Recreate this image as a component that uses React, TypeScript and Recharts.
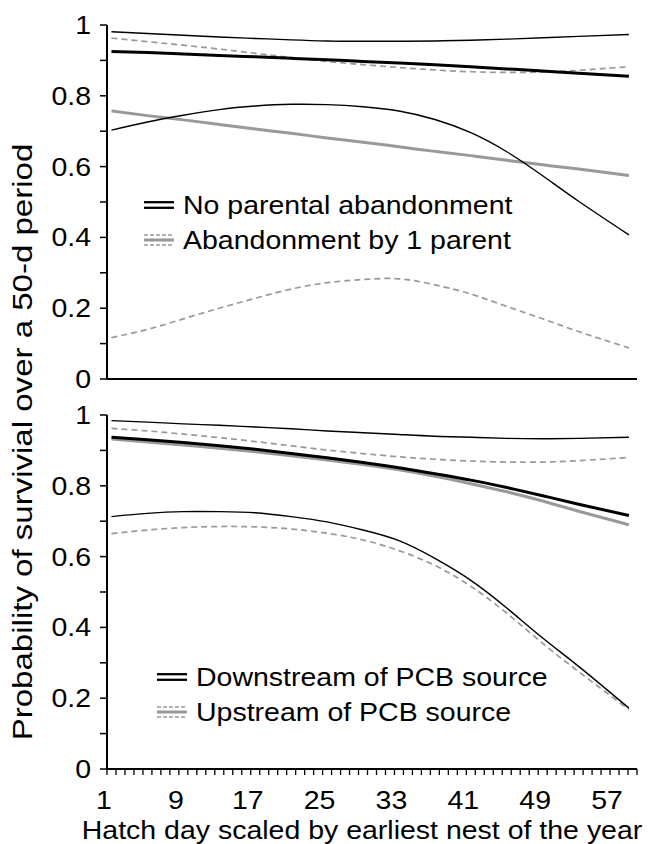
import React from 'react';
import { LineChart, Line, XAxis, YAxis } from 'recharts';

// hatch day (scaled by earliest nest of the year)
const days = [1, 5, 9, 13, 17, 21, 25, 29, 33, 37, 41, 45, 49, 53, 58.6];

// top panel: parental abandonment
const noAbandonMean = [0.925, 0.922, 0.918, 0.914, 0.91, 0.906, 0.902, 0.897, 0.893, 0.888, 0.882, 0.876, 0.87, 0.864, 0.855];
const noAbandonUpper = [0.981, 0.976, 0.971, 0.966, 0.962, 0.958, 0.955, 0.954, 0.954, 0.955, 0.957, 0.96, 0.964, 0.968, 0.973];
const noAbandonLower = [0.703, 0.726, 0.745, 0.761, 0.771, 0.776, 0.775, 0.769, 0.757, 0.733, 0.696, 0.642, 0.574, 0.502, 0.407];
const abandonMean = [0.757, 0.744, 0.732, 0.719, 0.706, 0.694, 0.681, 0.669, 0.656, 0.643, 0.631, 0.618, 0.605, 0.593, 0.575];
const abandonUpper = [0.963, 0.953, 0.943, 0.932, 0.92, 0.908, 0.897, 0.888, 0.88, 0.873, 0.868, 0.866, 0.867, 0.872, 0.882];
const abandonLower = [0.117, 0.14, 0.17, 0.2, 0.228, 0.254, 0.272, 0.281, 0.283, 0.266, 0.24, 0.205, 0.17, 0.134, 0.088];

// bottom panel: PCB source
const downMean = [0.937, 0.93, 0.922, 0.913, 0.903, 0.891, 0.879, 0.866, 0.851, 0.834, 0.816, 0.795, 0.772, 0.748, 0.716];
const downUpper = [0.984, 0.98, 0.975, 0.971, 0.966, 0.961, 0.955, 0.95, 0.945, 0.94, 0.937, 0.934, 0.933, 0.934, 0.937];
const downLower = [0.713, 0.722, 0.727, 0.727, 0.724, 0.713, 0.698, 0.675, 0.645, 0.595, 0.533, 0.455, 0.37, 0.29, 0.172];
const upMean = [0.932, 0.924, 0.915, 0.906, 0.896, 0.885, 0.873, 0.86, 0.845, 0.827, 0.806, 0.783, 0.757, 0.728, 0.69];
const upUpper = [0.962, 0.955, 0.946, 0.936, 0.925, 0.913, 0.901, 0.891, 0.882, 0.875, 0.87, 0.867, 0.867, 0.871, 0.88];
const upLower = [0.665, 0.675, 0.682, 0.685, 0.684, 0.678, 0.666, 0.647, 0.617, 0.575, 0.516, 0.44, 0.355, 0.275, 0.168];

const xTickLabels = [1, 9, 17, 25, 33, 41, 49, 57];
const yTickLabels = [0, 0.2, 0.4, 0.6, 0.8, 1];

const FONT = "'Liberation Sans', Arial, Helvetica, sans-serif";
const SX = 1.14; // text in the figure is set a bit wide
const INK = '#000';
const GREY = '#999';

const xTicks = Array.from({ length: 60 }, (_, i) => i + 0.5);
const yTicks = Array.from({ length: 11 }, (_, i) => i / 10);

const topData = days.map((day, i) => ({
  day,
  mA: noAbandonMean[i], uA: noAbandonUpper[i], lA: noAbandonLower[i],
  mB: abandonMean[i], uB: abandonUpper[i], lB: abandonLower[i],
}));
const bottomData = days.map((day, i) => ({
  day,
  mA: downMean[i], uA: downUpper[i], lA: downLower[i],
  mB: upMean[i], uB: upUpper[i], lB: upLower[i],
}));

const Txt = ({ x, y, anchor = 'start', size = 25, sx = SX, rotate = 0, dy = 0, children }: any) => (
  <g transform={`translate(${x},${y}) rotate(${rotate}) scale(${sx},1)`}>
    <text x={0} y={dy} textAnchor={anchor} fontSize={size} fontFamily={FONT} fill={INK}>
      {children}
    </text>
  </g>
);

const XTick = (props: any) => {
  const { x, y, payload } = props;
  const day = payload.value + 0.5;
  if (!xTickLabels.includes(day)) return null;
  return <Txt x={x - 3} y={y + 32} anchor="middle">{day}</Txt>;
};

const YTick = (props: any) => {
  const { x, y, payload } = props;
  const lab = yTickLabels.find((v) => Math.abs(v - payload.value) < 1e-6);
  if (lab === undefined) return null;
  return <Txt x={x - 7} y={y + 9} anchor="end">{String(lab)}</Txt>;
};

const Panel = ({ data, height, axisHeight, labels }: any) => (
  <LineChart width={652} height={height} data={data} margin={{ top: 25, right: 15, bottom: 0, left: 0 }}>
    <XAxis
      dataKey="day"
      type="number"
      domain={[0.5, 59.5]}
      ticks={xTicks}
      interval={0}
      height={axisHeight}
      axisLine={{ stroke: INK, strokeWidth: 2 }}
      tickLine={{ stroke: INK, strokeWidth: 1.3 }}
      tickSize={6}
      tick={labels ? <XTick /> : false}
    />
    <YAxis
      type="number"
      domain={[0, 1]}
      ticks={yTicks}
      interval={0}
      width={107}
      axisLine={{ stroke: INK, strokeWidth: 2 }}
      tickLine={{ stroke: INK, strokeWidth: 1.5 }}
      tickSize={7}
      tick={<YTick />}
    />
    <Line type="natural" dataKey="uB" stroke={GREY} strokeWidth={1.7} strokeDasharray="6 4" dot={false} isAnimationActive={false} />
    <Line type="natural" dataKey="lB" stroke={GREY} strokeWidth={1.7} strokeDasharray="6 4" dot={false} isAnimationActive={false} />
    <Line type="natural" dataKey="mB" stroke={GREY} strokeWidth={3} dot={false} isAnimationActive={false} />
    <Line type="natural" dataKey="uA" stroke={INK} strokeWidth={1.4} dot={false} isAnimationActive={false} />
    <Line type="natural" dataKey="lA" stroke={INK} strokeWidth={1.4} dot={false} isAnimationActive={false} />
    <Line type="natural" dataKey="mA" stroke={INK} strokeWidth={3} dot={false} isAnimationActive={false} />
  </LineChart>
);

const LegendBlock = ({ x, y, labels }: any) => (
  <g>
    <line x1={x} x2={x + 30} y1={y - 2.8} y2={y - 2.8} stroke={INK} strokeWidth={2.3} />
    <line x1={x} x2={x + 30} y1={y + 2.8} y2={y + 2.8} stroke={INK} strokeWidth={2.3} />
    <Txt x={x + 39} y={y + 9}>{labels[0]}</Txt>
    <line x1={x} x2={x + 30} y1={y + 30} y2={y + 30} stroke={GREY} strokeWidth={1.5} strokeDasharray="4 2" />
    <line x1={x} x2={x + 30} y1={y + 35} y2={y + 35} stroke={GREY} strokeWidth={3} />
    <line x1={x} x2={x + 30} y1={y + 40} y2={y + 40} stroke={GREY} strokeWidth={1.5} strokeDasharray="4 2" />
    <Txt x={x + 39} y={y + 44}>{labels[1]}</Txt>
  </g>
);

export default function App() {
  return (
    <div style={{ position: 'absolute', left: 0, top: 0, width: 652, height: 844, background: '#fff' }}>
      <div style={{ position: 'absolute', left: 0, top: 0 }}>
        <Panel data={topData} height={400} axisHeight={21} labels={false} />
      </div>
      <div style={{ position: 'absolute', left: 0, top: 390 }}>
        <Panel data={bottomData} height={454} axisHeight={75} labels={true} />
      </div>
      <svg width={652} height={844} style={{ position: 'absolute', left: 0, top: 0, pointerEvents: 'none' }}>
        <Txt x={22} y={442} anchor="middle" rotate={-90} size={28} sx={1.18} dy={10}>
          Probability of survivial over a 50-d period
        </Txt>
        <Txt x={362} y={839} anchor="middle">Hatch day scaled by earliest nest of the year</Txt>
        <LegendBlock x={144} y={205} labels={['No parental abandonment', 'Abandonment by 1 parent']} />
        <LegendBlock x={157} y={677} labels={['Downstream of PCB source', 'Upstream of PCB source']} />
      </svg>
    </div>
  );
}
